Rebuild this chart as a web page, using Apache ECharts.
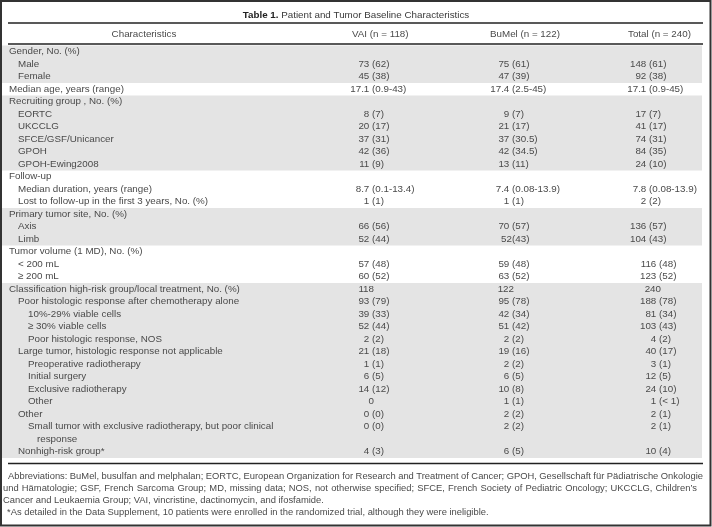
<!DOCTYPE html>
<html>
<head>
<meta charset="utf-8">
<script src="https://cdn.jsdelivr.net/npm/echarts@6/dist/echarts.min.js"></script>
<style>
html, body { margin: 0; padding: 0; background: #fff; }
#table1 { width: 712px; height: 527px; }
</style>
</head>
<body>
<div id="table1"></div>
<script>
// table content
const columnHeaders = ['Characteristics', 'VAI (n = 118)', 'BuMel (n = 122)', 'Total (n = 240)']

const characteristics = [
  'Gender, No. (%)', 'Male', 'Female',
  'Median age, years (range)',
  'Recruiting group , No. (%)', 'EORTC', 'UKCCLG', 'SFCE/GSF/Unicancer', 'GPOH', 'GPOH-Ewing2008',
  'Follow-up', 'Median duration, years (range)', 'Lost to follow-up in the first 3 years, No. (%)',
  'Primary tumor site, No. (%)', 'Axis', 'Limb',
  'Tumor volume (1 MD), No. (%)', '< 200 mL', '≥ 200 mL',
  'Classification high-risk group/local treatment, No. (%)',
  'Poor histologic response after chemotherapy alone', '10%-29% viable cells', '≥ 30% viable cells',
  'Poor histologic response, NOS',
  'Large tumor, histologic response not applicable', 'Preoperative radiotherapy', 'Initial surgery',
  'Exclusive radiotherapy', 'Other',
  'Other', 'Small tumor with exclusive radiotherapy, but poor clinical', 'response',
  'Nonhigh-risk group*'
]

const indentLevels = [
  0, 1, 1,
  0,
  0, 1, 1, 1, 1, 1,
  0, 1, 1,
  0, 1, 1,
  0, 1, 1,
  0,
  1, 2, 2, 2,
  1, 2, 2, 2, 2,
  1, 2, 3,
  1
]

const vaiValues = [
  '', '73 (62)', '45 (38)',
  '17.1 (0.9-43)',
  '', '8 (7)', '20 (17)', '37 (31)', '42 (36)', '11 (9)',
  '', '8.7 (0.1-13.4)', '1 (1)',
  '', '66 (56)', '52 (44)',
  '', '57 (48)', '60 (52)',
  '118',
  '93 (79)', '39 (33)', '52 (44)', '2 (2)',
  '21 (18)', '1 (1)', '6 (5)', '14 (12)', '0',
  '0 (0)', '0 (0)', '',
  '4 (3)'
]

const bumelValues = [
  '', '75 (61)', '47 (39)',
  '17.4 (2.5-45)',
  '', '9 (7)', '21 (17)', '37 (30.5)', '42 (34.5)', '13 (11)',
  '', '7.4 (0.08-13.9)', '1 (1)',
  '', '70 (57)', '52(43)',
  '', '59 (48)', '63 (52)',
  '122',
  '95 (78)', '42 (34)', '51 (42)', '2 (2)',
  '19 (16)', '2 (2)', '6 (5)', '10 (8)', '1 (1)',
  '2 (2)', '2 (2)', '',
  '6 (5)'
]

const totalValues = [
  '', '148 (61)', '92 (38)',
  '17.1 (0.9-45)',
  '', '17 (7)', '41 (17)', '74 (31)', '84 (35)', '24 (10)',
  '', '7.8 (0.08-13.9)', '2 (2)',
  '', '136 (57)', '104 (43)',
  '', '116 (48)', '123 (52)',
  '240',
  '188 (78)', '81 (34)', '103 (43)', '4 (2)',
  '40 (17)', '3 (1)', '12 (5)', '24 (10)', '1 (< 1)',
  '2 (1)', '2 (1)', '',
  '10 (4)'
]

// first and last row of each shaded block
const shadedGroups = [[0, 2], [4, 9], [13, 15], [19, 32]]

const footnoteLines = [
  'Abbreviations: BuMel, busulfan and melphalan; EORTC, European Organization for Research and Treatment of Cancer; GPOH, Gesellschaft für Pädiatrische Onkologie',
  'und Hämatologie; GSF, French Sarcoma Group; MD, missing data; NOS, not otherwise specified; SFCE, French Society of Pediatric Oncology; UKCCLG, Children’s',
  'Cancer and Leukaemia Group; VAI, vincristine, dactinomycin, and ifosfamide.',
  '*As detailed in the Data Supplement, 10 patients were enrolled in the randomized trial, although they were ineligible.'
]

// layout
const FAMILY = '"Liberation Sans", Arial, sans-serif'
const FONT = '9.8px ' + FAMILY
const FOOT_FONT = '9.4px ' + FAMILY
const TEXT = '#4a4a4a'
const SHADE = '#e4e4e4'
const indentX = [9, 18, 28, 37]
const parenX = [372, 512, 649]
const lowerTotalShift = 10 // total column sits a bit further right from "< 200 mL" on
const footY = [476, 488, 500, 512]
const footX = [8, 3, 3, 7]
const footRight = [703, 697, null, null] // justified lines

const measure = document.createElement('canvas').getContext('2d')

function txt(x, y, text, align, font) {
  return {
    type: 'text',
    style: { x: x, y: y, text: text, fill: TEXT, font: font || FONT, align: align, verticalAlign: 'middle' }
  }
}

function valueCell(anchor, y, s) {
  if (!s) return []
  const i = s.indexOf('(')
  if (i < 0) return [txt(anchor + 2, y, s, 'right')]
  const head = s.slice(0, i)
  const headTrim = head.trimEnd()
  const gap = headTrim.length < head.length ? 2.7 : 0
  return [txt(anchor - gap, y, headTrim, 'right'), txt(anchor, y, s.slice(i), 'left')]
}

// footnote lines, the first two are justified to the right margin
function footnoteGraphics() {
  measure.font = FOOT_FONT
  const out = []
  footnoteLines.forEach((line, i) => {
    if (!footRight[i]) {
      out.push({ type: 'text', x: footX[i], y: footY[i], style: { text: line, font: FOOT_FONT, fill: TEXT, align: 'left', verticalAlign: 'middle' } })
      return
    }
    const words = line.split(' ')
    const widths = words.map(w => measure.measureText(w).width)
    const used = widths.reduce((a, b) => a + b, 0)
    const gap = (footRight[i] - footX[i] - used) / (words.length - 1)
    let x = footX[i]
    words.forEach((w, k) => {
      out.push({ type: 'text', x: x, y: footY[i], style: { text: w, font: FOOT_FONT, fill: TEXT, align: 'left', verticalAlign: 'middle' } })
      x += widths[k] + gap
    })
  })
  return out
}

const chart = echarts.init(document.getElementById('table1'), null, { renderer: 'canvas' })

const option = {
  animation: false,
  backgroundColor: '#fff',
  title: {
    text: '{b|Table 1.} Patient and Tumor Baseline Characteristics',
    left: 'center',
    top: 5,
    textStyle: {
      fontFamily: FAMILY,
      fontSize: 9.8,
      fontWeight: 'normal',
      color: '#3a3a3a',
      rich: {
        b: { fontFamily: FAMILY, fontSize: 9.8, fontWeight: 'bold', color: '#222' }
      }
    }
  },
  grid: { left: 0, right: 0, top: 45.5, bottom: 69 },
  xAxis: { type: 'value', min: 0, max: 712, show: false },
  yAxis: {
    type: 'category',
    inverse: true,
    data: characteristics.map((c, i) => i),
    show: false
  },
  graphic: [
    { type: 'rect', shape: { x: 1, y: 1, width: 709.5, height: 524.5 }, style: { fill: 'none', stroke: '#333', lineWidth: 2 }, z: 10 },
    { type: 'line', shape: { x1: 8, y1: 23, x2: 703, y2: 23 }, style: { stroke: '#222', lineWidth: 1.3 } },
    { type: 'line', shape: { x1: 8, y1: 44, x2: 703, y2: 44 }, style: { stroke: '#222', lineWidth: 1.3 } },
    { type: 'line', shape: { x1: 8, y1: 463.5, x2: 703, y2: 463.5 }, style: { stroke: '#222', lineWidth: 1.3 } },
    { type: 'text', x: 144, y: 34.5, style: { text: columnHeaders[0], font: FONT, fill: TEXT, align: 'center', verticalAlign: 'middle' } },
    { type: 'text', x: 352, y: 34.5, style: { text: columnHeaders[1], font: FONT, fill: TEXT, align: 'left', verticalAlign: 'middle' } },
    { type: 'text', x: 490, y: 34.5, style: { text: columnHeaders[2], font: FONT, fill: TEXT, align: 'left', verticalAlign: 'middle' } },
    { type: 'text', x: 628, y: 34.5, style: { text: columnHeaders[3], font: FONT, fill: TEXT, align: 'left', verticalAlign: 'middle' } }
  ].concat(footnoteGraphics()),
  series: [
    {
      name: 'shading',
      type: 'custom',
      silent: true,
      z: 1,
      data: shadedGroups,
      renderItem: function(params, api) {
        const band = api.size([0, 1])[1]
        const top = api.coord([0, api.value(0)])[1] - band / 2
        const bottom = api.coord([0, api.value(1)])[1] + band / 2
        const x0 = api.coord([2, 0])[0]
        const x1 = api.coord([702, 0])[0]
        return { type: 'rect', shape: { x: x0, y: top, width: x1 - x0, height: bottom - top }, style: { fill: SHADE } }
      }
    },
    {
      name: 'cells',
      type: 'custom',
      silent: true,
      z: 2,
      data: characteristics.map((c, i) => [0, i]),
      renderItem: function(params, api) {
        const row = api.value(1)
        const y = api.coord([0, row])[1]
        const at = v => api.coord([v, row])[0]
        const totalAnchor = parenX[2] + (row >= 17 ? lowerTotalShift : 0)
        const children = [txt(at(indentX[indentLevels[row]]), y, characteristics[row], 'left')]
          .concat(valueCell(at(parenX[0]), y, vaiValues[row]))
          .concat(valueCell(at(parenX[1]), y, bumelValues[row]))
          .concat(valueCell(at(totalAnchor), y, totalValues[row]))
        return { type: 'group', children: children }
      }
    }
  ]
}

chart.setOption(option)
</script>
</body>
</html>
